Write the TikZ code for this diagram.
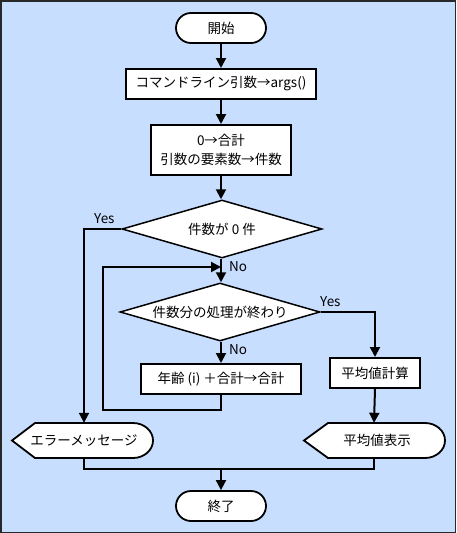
\documentclass[tikz,border=0pt]{standalone}
\usepackage{fontspec}
\setmainfont{Noto Sans CJK JP}
\usetikzlibrary{shapes.geometric,arrows.meta}
\definecolor{bgblue}{RGB}{200,222,255}
\definecolor{frame}{RGB}{40,40,40}
\tikzset{
  lbl/.style={font=\fontsize{13.5pt}{16pt}\selectfont},
  term/.style={lbl,draw=black,fill=white,line width=1.8pt,rounded corners=15pt,minimum width=90pt,minimum height=30pt,inner sep=0pt},
  proc/.style={lbl,draw=black,fill=white,line width=2pt,minimum height=30pt,inner sep=0pt},
  dec/.style={lbl,draw=black,fill=white,line width=1.5pt,diamond,aspect=3.45,minimum width=200pt,minimum height=58pt,inner sep=0pt},
  disptext/.style={lbl,minimum width=141pt,minimum height=35pt,inner sep=0pt},
  dispshape/.style={draw=black,fill=white,line width=1.8pt,line join=miter},
  conn/.style={draw=black,line width=2pt},
  arr/.style={conn,-{Triangle[length=10pt,width=10pt]}},
  yn/.style={lbl,inner sep=0pt}
}
\begin{document}
\begin{tikzpicture}[x=1pt,y=-1pt]
\useasboundingbox (0,0) rectangle (456,533);
\fill[bgblue] (0,0) rectangle (456,533);
\draw[frame,line width=1.5pt] (0.75,0.75) rectangle (455.25,532.25);

% nodes
\node[term] (start) at (221,28) {開始};
\node[proc,minimum width=190pt] (p1) at (221,84) {コマンドライン引数→args()};
\node[proc,minimum width=140pt,minimum height=50pt,align=center,font=\fontsize{13.5pt}{19pt}\selectfont] (p2) at (221,150) {0→合計\\引数の要素数→件数};
\node[dec] (d1) at (222,229) {件数が 0 件};
\node[dec] (d2) at (220,312) {件数分の処理が終わり};
\node[proc,minimum width=160pt] (p3) at (221,379) {年齢 (i) ＋合計→合計};
\node[proc,minimum width=90pt] (p4) at (375,373) {平均値計算};

% display shapes
\draw[dispshape] (12,440.5) -- (35,423) -- (133,423) arc[start angle=-90,end angle=90,x radius=20,y radius=17.5] -- (35,458) -- cycle;
\node[disptext] (err) at (84,440.5) {エラーメッセージ};
\draw[dispshape] (304,440.5) -- (328,423) -- (425,423) arc[start angle=-90,end angle=90,x radius=20,y radius=17.5] -- (328,458) -- cycle;
\node[disptext] (show) at (374,440.5) {\hspace{6pt}平均値表示};

\node[term] (end) at (221,506) {終了};

% coordinates
\coordinate (join) at (221,267);
\coordinate (lb) at (103,410);
\coordinate (lt) at (103,267);
\coordinate (m) at (221,469);

% connectors
\draw[arr] (start) -- (p1);
\draw[arr] (p1) -- (p2);
\draw[arr] (p2) -- (d1.north -| p2.south);
\draw[arr] (d1.west) -| (err.north);
\draw[arr] (d1.south -| p2.south) -- (d2.north -| p2.south);
\draw[arr] (d2.south -| p2.south) -- (p3.north);
\draw[arr] (p3.south) |- (lb) -- (lt) -- (join);
\draw[arr] (d2.east) -| (p4.north);
\draw[arr] (p4.south) -- (show.north);
\draw[conn] (err.south) |- (m) -| (show.south);
\draw[arr] (m) -- (end.north);

% labels
\node[yn,anchor=south west] (yes1) at (94,224) {Yes};
\node[yn,anchor=west] (no1) at (229,267) {No};
\node[yn,anchor=south west] (yes2) at (320,307) {Yes};
\node[yn,anchor=west] (no2) at (229,350) {No};
\end{tikzpicture}
\end{document}
